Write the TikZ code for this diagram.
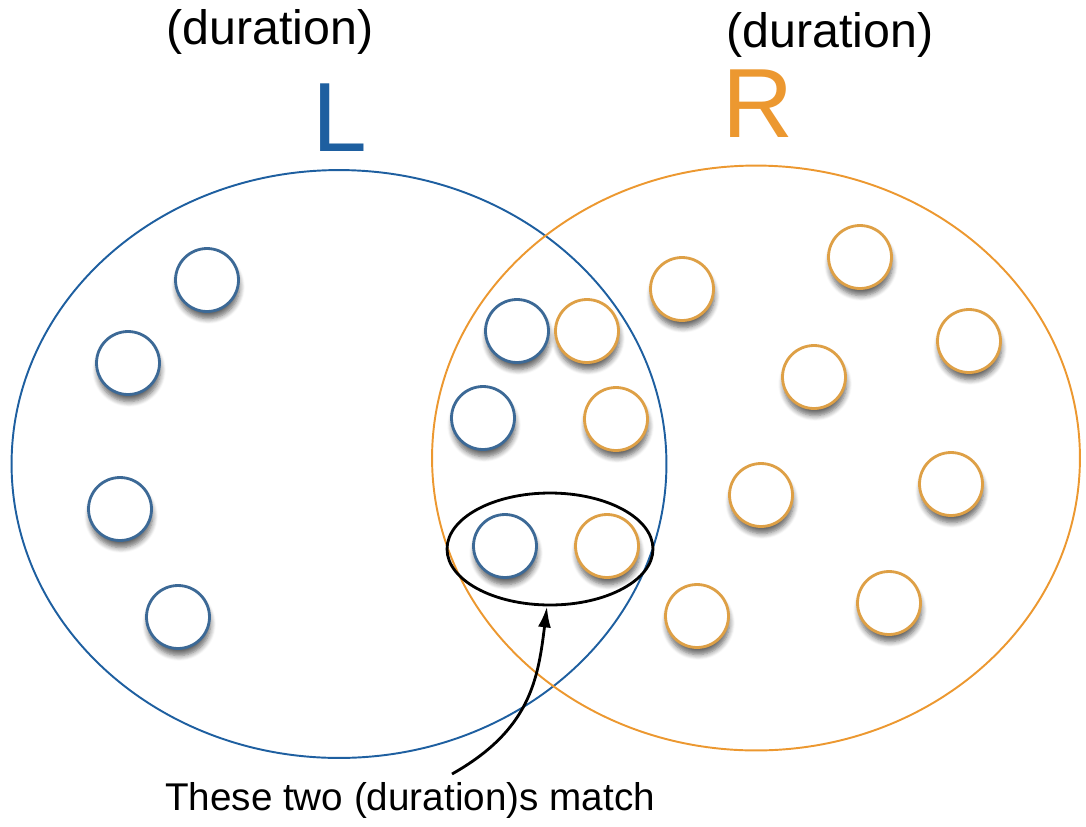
\documentclass[tikz,border=0pt]{standalone}
\usepackage{fontspec}
\setmainfont{Liberation Sans}
\usetikzlibrary{shapes.geometric,shadows.blur,arrows.meta}
\definecolor{lblue}{RGB}{30,95,160}
\definecolor{rorange}{RGB}{236,152,48}
\definecolor{sblue}{RGB}{60,105,150}
\definecolor{sorange}{RGB}{222,160,70}
\tikzset{
  big/.style={ellipse, draw, line width=1.1pt, inner sep=0pt},
  dot/.style={circle, minimum size=1.26cm, inner sep=0pt, fill=white, line width=1.6pt,
     blur shadow={shadow xshift=0.6pt, shadow yshift=-4pt, shadow opacity=60, shadow blur steps=6, shadow blur radius=3pt}},
  ldot/.style={dot, draw=sblue},
  rdot/.style={dot, draw=sorange},
  lab/.style={font=\fontsize{27.5}{30}\selectfont, inner sep=0pt},
  big letter/.style={font=\fontsize{56}{60}\selectfont, inner sep=0pt},
}
\begin{document}
\begin{tikzpicture}[x=0.02cm,y=-0.02cm]
\useasboundingbox (0,0) rectangle (1086,826);
% big sets
\node[big, draw=lblue, minimum width=13.1cm, minimum height=11.76cm] (L) at (339,464) {};
\node[big, draw=rorange, minimum width=12.96cm, minimum height=11.7cm] (R) at (756,458) {};
% labels
\node[lab] (dl) at (270,32) {(duration)};
\node[lab] (dr) at (830,35) {(duration)};
\node[big letter, text=lblue] (Lt) at (340,118) {L};
\node[big letter, text=rorange] (Rt) at (758,104) {R};
% left dots
\node[ldot] (l1) at (207,280) {};
\node[ldot] (l2) at (128,363) {};
\node[ldot] (l3) at (120,509) {};
\node[ldot] (l4) at (178,617) {};
\node[ldot] (l5) at (517,331) {};
\node[ldot] (l6) at (483,418) {};
\node[ldot] (l7) at (505,546) {};
% right dots
\node[rdot] (r1) at (587,331) {};
\node[rdot] (r2) at (616,419) {};
\node[rdot] (r3) at (607,546) {};
\node[rdot] (r4) at (682,289) {};
\node[rdot] (r5) at (860,257) {};
\node[rdot] (r6) at (969,341) {};
\node[rdot] (r7) at (814,377) {};
\node[rdot] (r8) at (761,495) {};
\node[rdot] (r9) at (951,484) {};
\node[rdot] (r10) at (697,616) {};
\node[rdot] (r11) at (889,603) {};
% match ellipse
\node[ellipse, draw=black, line width=1.6pt, minimum width=4.12cm, minimum height=2.24cm, inner sep=0pt] (match) at (550,549) {};
% caption
\node[font=\fontsize{22}{26}\selectfont, inner sep=0pt] (cap) at (410,800) {These two (duration)s match};
\coordinate (tail) at (452,774);
\draw[line width=1.6pt, -{Latex[length=4.2mm,width=2.6mm]}] (tail) .. controls (530,730) and (538,680) .. (match.-93);
\end{tikzpicture}
\end{document}
